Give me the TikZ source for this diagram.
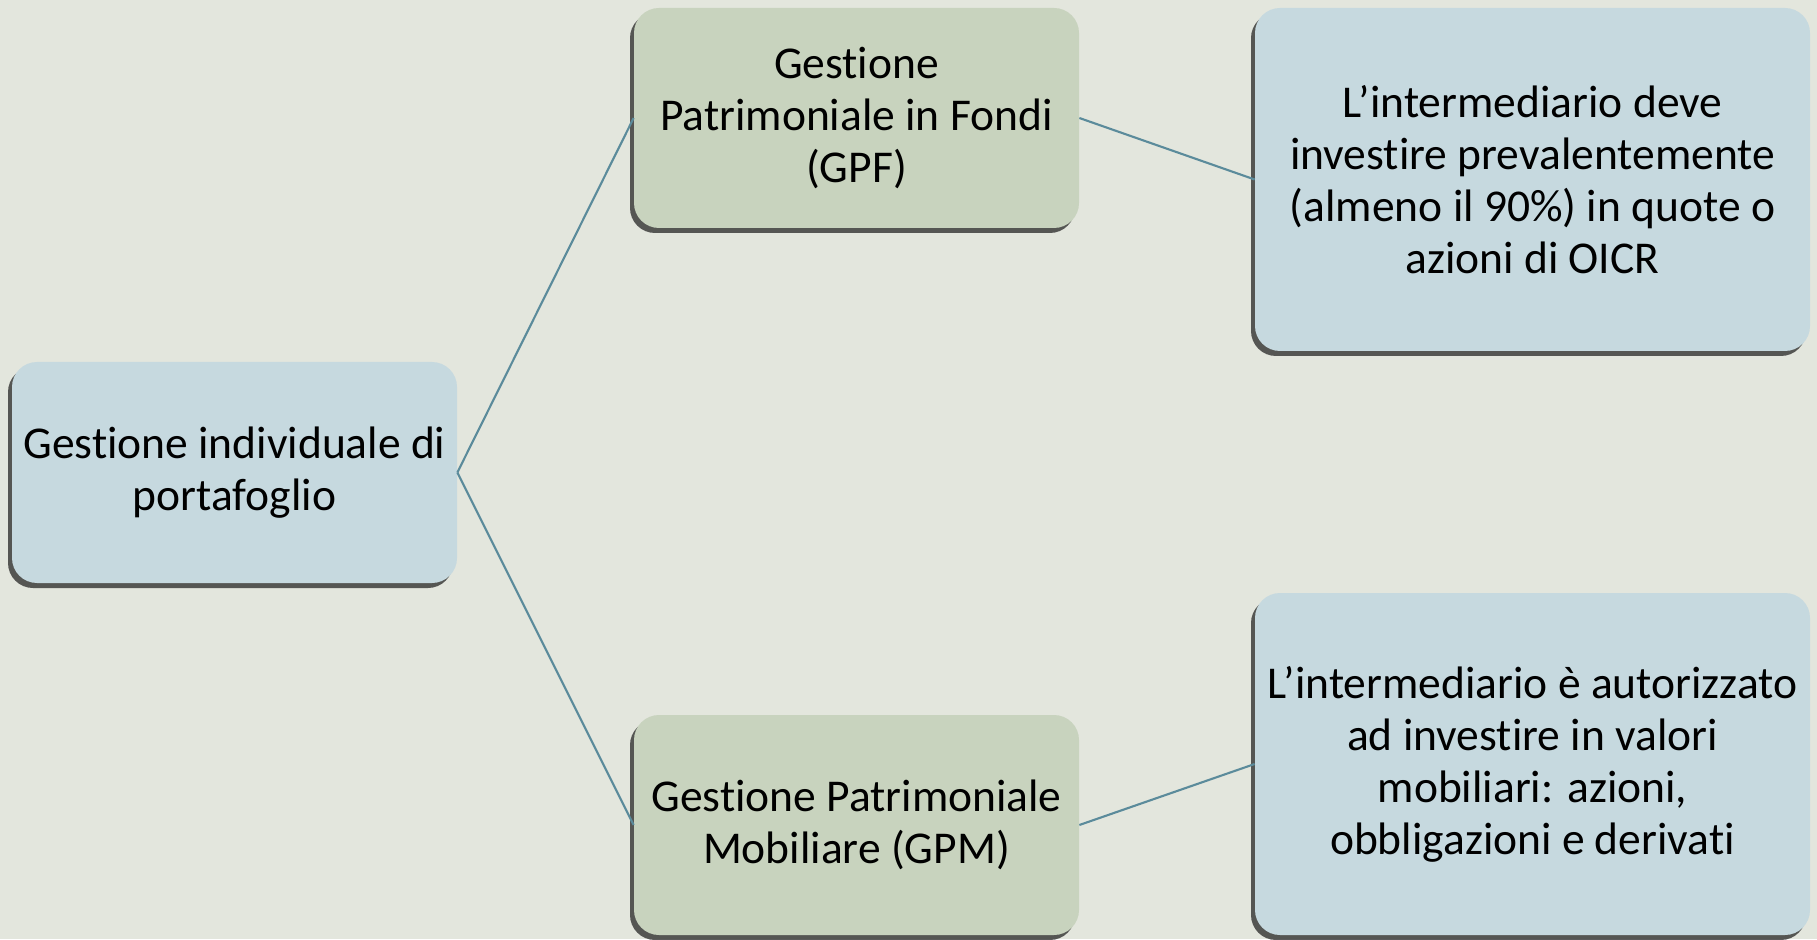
\documentclass[tikz,border=0pt]{standalone}
\usepackage{fontspec}
\setmainfont{Carlito}[Ligatures={NoCommon}]
\usepackage{xcolor}
\usetikzlibrary{shadows}

\definecolor{bgcol}{HTML}{E3E6DD}
\definecolor{bluebox}{HTML}{C6D9DF}
\definecolor{greenbox}{HTML}{C8D3BE}
\definecolor{linkcol}{HTML}{5B8B9B}

\tikzset{
  box/.style={rectangle, rounded corners=0.5cm, align=center, inner sep=4pt,
    font=\fontsize{25.9}{29.6}\selectfont,
    drop shadow={shadow xshift=-0.08cm, shadow yshift=-0.1cm, opacity=0.75, fill=black!85}},
  bluenode/.style={box, fill=bluebox},
  greennode/.style={box, fill=greenbox},
  link/.style={draw=linkcol, line width=1.2pt}
}

\begin{document}
\begin{tikzpicture}
    % background
    \fill[bgcol] (0,0) rectangle (36.34,18.78);
    \useasboundingbox (0,0) rectangle (36.34,18.78);

    % root
    \node[bluenode, minimum width=8.9cm, minimum height=4.42cm] (gip) at (4.69,9.33)
        {Gestione individuale di\\portafoglio};

    % middle column
    \node[greennode, minimum width=8.9cm, minimum height=4.4cm] (gpf) at (17.13,16.42)
        {Gestione\\Patrimoniale in Fondi\\(GPF)};
    \node[greennode, minimum width=8.9cm, minimum height=4.4cm] (gpm) at (17.13,2.28)
        {Gestione Patrimoniale\\Mobiliare (GPM)};

    % right column
    \node[bluenode, minimum width=11.1cm, minimum height=6.86cm] (oicr) at (30.65,15.19)
        {L’intermediario deve\\investire prevalentemente\\(almeno il 90\%) in quote o\\azioni di OICR};
    \node[bluenode, minimum width=11.1cm, minimum height=6.84cm] (mob) at (30.65,3.5)
        {L’intermediario è autorizzato\\ad investire in valori\\mobiliari: azioni,\\obbligazioni e derivati};

    % connectors
    \draw[link] (gip.east) -- (gpf.west);
    \draw[link] (gip.east) -- (gpm.west);
    \draw[link] (gpf.east) -- (oicr.west);
    \draw[link] (gpm.east) -- (mob.west);
\end{tikzpicture}
\end{document}
